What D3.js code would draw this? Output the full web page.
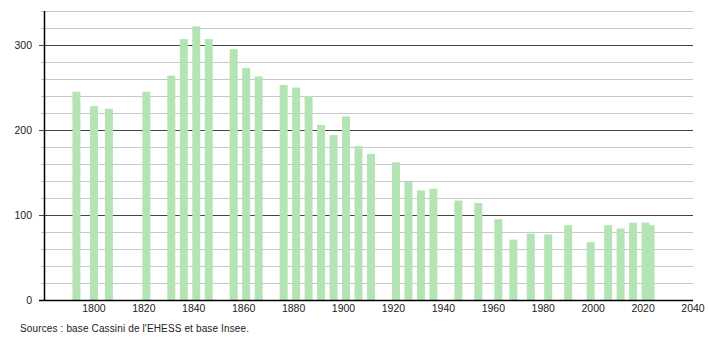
<!DOCTYPE html>
<meta charset="utf-8">
<style>
body { margin: 0; background: #fff; }
text { font-family: "Liberation Sans", Arial, sans-serif; font-size: 10.5px; fill: #222; }
</style>
<svg width="710" height="340"></svg>
<script src="https://d3js.org/d3.v7.min.js"></script>
<script>

// census years and population
var years = [1793, 1800, 1806, 1821, 1831, 1836, 1841, 1846, 1856, 1861, 1866,
  1876, 1881, 1886, 1891, 1896, 1901, 1906, 1911, 1921, 1926, 1931, 1936,
  1946, 1954, 1962, 1968, 1975, 1982, 1990, 1999, 2006, 2011, 2016, 2021, 2023];
var population = [245, 228, 225, 245, 264, 307, 322, 307, 295, 273, 263,
  253, 250, 240, 206, 194, 216, 181, 172, 162, 139, 129, 131,
  117, 114, 95, 71, 78, 77, 88, 68, 88, 84, 91, 91, 88];
var xTicks = [1800, 1820, 1840, 1860, 1880, 1900, 1920, 1940, 1960, 1980, 2000, 2020, 2040];
var yTicks = [0, 100, 200, 300];
var source = "Sources : base Cassini de l'EHESS et base Insee.";

var svg = d3.select("svg");

var x = d3.scaleLinear().domain([1780, 2040]).range([44, 693]);
var y = d3.scaleLinear().domain([0, 340]).range([300, 11]);

// minor grid every 20
svg.append("g").selectAll("line")
    .data(d3.range(20, 341, 20).filter(function(d) { return d % 100 != 0; }))
    .enter().append("line")
      .attr("x1", 41).attr("x2", x(2040))
      .attr("y1", function(d) { return y(d) + 0.5; })
      .attr("y2", function(d) { return y(d) + 0.5; })
      .attr("stroke", "#c8c8c8");

svg.append("g").selectAll("line")
    .data(yTicks.slice(1))
    .enter().append("line")
      .attr("x1", 39).attr("x2", x(2040))
      .attr("y1", function(d) { return y(d) + 0.5; })
      .attr("y2", function(d) { return y(d) + 0.5; })
      .attr("stroke", "#444");

var bw = 8;
svg.append("g").selectAll("rect")
    .data(years)
    .enter().append("rect")
      .attr("x", function(d) { return x(d) - bw / 2; })
      .attr("y", function(d, i) { return y(population[i]); })
      .attr("width", bw)
      .attr("height", function(d, i) { return y(0) - y(population[i]); })
      .attr("fill", "#b4e4b4");

// axes
svg.append("line")
    .attr("x1", 44.5).attr("x2", 44.5).attr("y1", y(340)).attr("y2", y(0))
    .attr("stroke", "#000").attr("stroke-width", 1.5);
svg.append("line")
    .attr("x1", 39).attr("x2", x(2040)).attr("y1", y(0) + 0.5).attr("y2", y(0) + 0.5)
    .attr("stroke", "#000").attr("stroke-width", 1.5);

svg.append("g").selectAll("text")
    .data(yTicks)
    .enter().append("text")
      .attr("x", 32)
      .attr("y", function(d) { return y(d); })
      .attr("dy", "0.35em")
      .attr("text-anchor", "end")
      .text(function(d) { return d; });

svg.append("g").selectAll("text")
    .data(xTicks)
    .enter().append("text")
      .attr("x", function(d) { return x(d); })
      .attr("y", 312)
      .attr("text-anchor", "middle")
      .text(function(d) { return d; });

svg.append("text")
    .attr("x", 20).attr("y", 332)
    .style("font-size", "10px")
    .attr("textLength", 229)
    .text(source);

</script>
